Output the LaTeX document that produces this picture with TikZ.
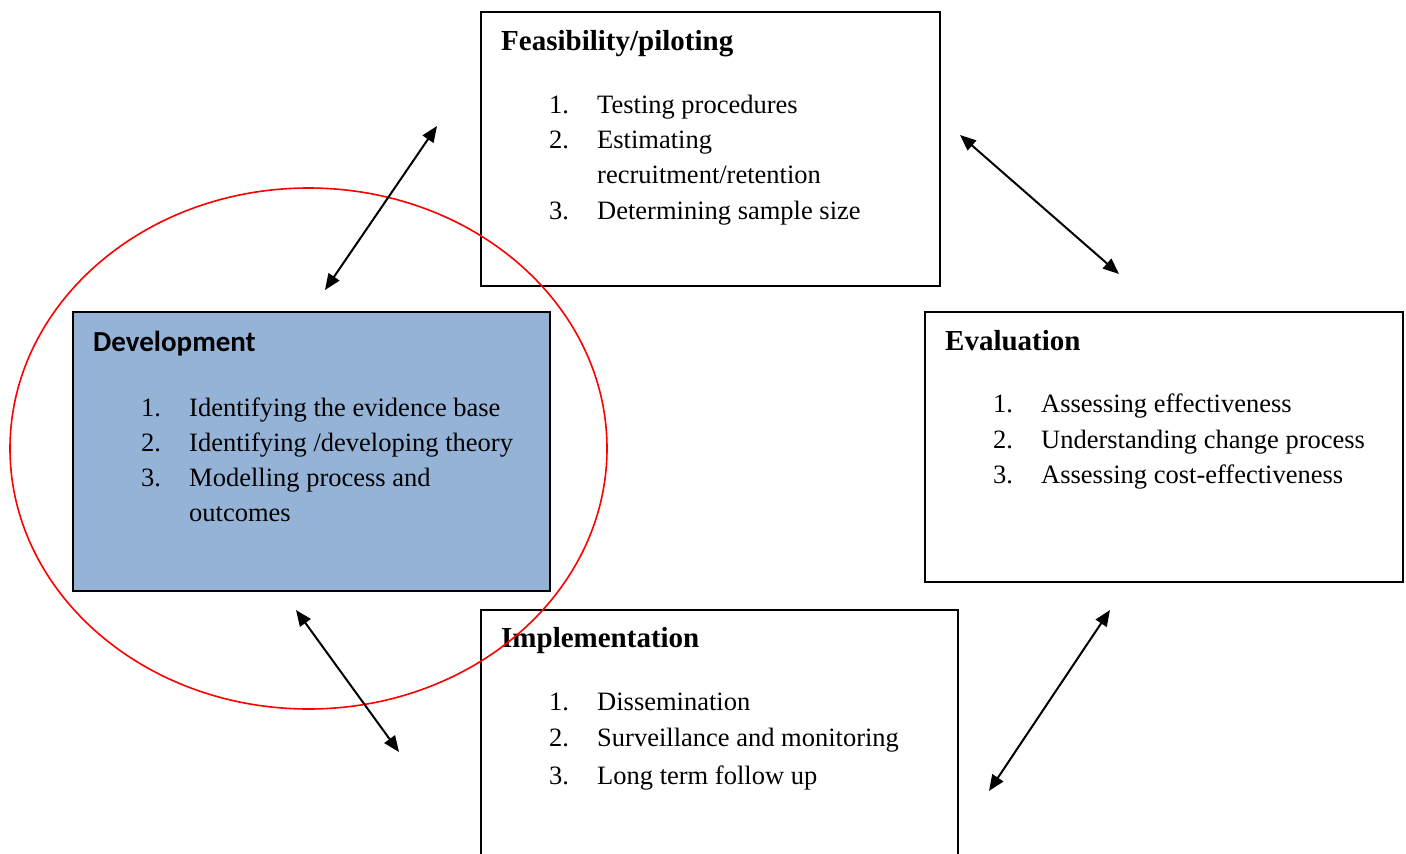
\documentclass[tikz,border=0pt]{standalone}
\usepackage{fontspec}
\setmainfont{Liberation Serif}
\newfontfamily\headsans{Carlito}
\usetikzlibrary{arrows.meta}
\definecolor{devblue}{HTML}{95B3D7}
\definecolor{ringred}{HTML}{FF0000}
\tikzset{
  stagebox/.style={draw=black, line width=2pt, inner sep=0pt, anchor=north west},
  headtxt/.style={anchor=base west, inner sep=0pt, font=\fontsize{29}{35}\selectfont\bfseries},
  numtxt/.style={anchor=base west, inner sep=0pt, font=\fontsize{26.5}{35}\selectfont},
  itemtxt/.style={anchor=base west, inner sep=0pt, font=\fontsize{26.5}{35}\selectfont},
  link/.style={line width=2pt, {Triangle[length=16pt,width=13pt]}-{Triangle[length=16pt,width=13pt]}},
}
\begin{document}
\begin{tikzpicture}[x=1pt, y=-1pt]
\useasboundingbox (0,0) rectangle (1406,854);
\clip (0,0) rectangle (1406,854);
\fill[white] (0,0) rectangle (1406,854);

% stage boxes
\node[stagebox, minimum width=459pt, minimum height=274pt] (feas) at (480,11) {};
\node[stagebox, fill=devblue, minimum width=477pt, minimum height=279pt] (dev) at (72,311) {};
\node[stagebox, minimum width=478pt, minimum height=270pt] (eval) at (924,311) {};
\node[stagebox, minimum width=477pt, minimum height=280pt] (impl) at (480,609) {};

% Feasibility/piloting
\node[headtxt] (feasT) at (501,50) {Feasibility/piloting};
\node[numtxt] (feasN1) at (549,113) {1.};
\node[itemtxt] (feasI1) at (597,113) {Testing procedures};
\node[numtxt] (feasN2) at (549,148) {2.};
\node[itemtxt] (feasI2) at (597,148) {Estimating};
\node[itemtxt] (feasI2b) at (597,183) {recruitment/retention};
\node[numtxt] (feasN3) at (549,219) {3.};
\node[itemtxt] (feasI3) at (597,219) {Determining sample size};

% Development
\node[headtxt, font=\fontsize{29}{35}\selectfont\headsans\bfseries] (devT) at (93,351) {Development};
\node[numtxt] (devN1) at (141,416) {1.};
\node[itemtxt] (devI1) at (189,416) {Identifying the evidence base};
\node[numtxt] (devN2) at (141,451) {2.};
\node[itemtxt] (devI2) at (189,451) {Identifying /developing theory};
\node[numtxt] (devN3) at (141,486) {3.};
\node[itemtxt] (devI3) at (189,486) {Modelling process and};
\node[itemtxt] (devI3b) at (189,521) {outcomes};

% Evaluation
\node[headtxt] (evalT) at (945,350) {Evaluation};
\node[numtxt] (evalN1) at (993,412) {1.};
\node[itemtxt] (evalI1) at (1041,412) {Assessing effectiveness};
\node[numtxt] (evalN2) at (993,448) {2.};
\node[itemtxt] (evalI2) at (1041,448) {Understanding change process};
\node[numtxt] (evalN3) at (993,483) {3.};
\node[itemtxt] (evalI3) at (1041,483) {Assessing cost-effectiveness};

% Implementation
\node[headtxt] (implT) at (501,647) {Implementation};
\node[numtxt] (implN1) at (549,710) {1.};
\node[itemtxt] (implI1) at (597,710) {Dissemination};
\node[numtxt] (implN2) at (549,746) {2.};
\node[itemtxt] (implI2) at (597,746) {Surveillance and monitoring};
\node[numtxt] (implN3) at (549,784) {3.};
\node[itemtxt] (implI3) at (597,784) {Long term follow up};

% ring around the development stage
\draw[ringred, line width=1.6pt] (308.5,448.5) ellipse [x radius=298.5pt, y radius=260.5pt];

% two-way links between stages
\coordinate (a1s) at (325,290);
\coordinate (a1e) at (437,126);
\coordinate (a2s) at (960,135);
\coordinate (a2e) at (1119,274);
\coordinate (a3s) at (296,610);
\coordinate (a3e) at (399,752);
\coordinate (a4s) at (1110,610);
\coordinate (a4e) at (989,791);
\draw[link] (a1s) -- (a1e);
\draw[link] (a2s) -- (a2e);
\draw[link] (a3s) -- (a3e);
\draw[link] (a4s) -- (a4e);
\end{tikzpicture}
\end{document}
